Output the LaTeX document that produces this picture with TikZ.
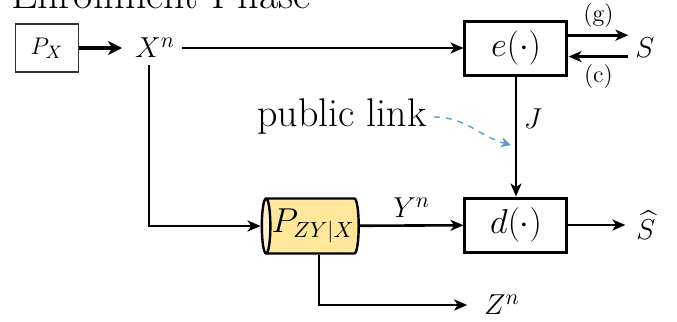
\documentclass[tikz,border=0pt]{standalone}
\usepackage{amsmath}
\usepackage{amssymb}
\usepackage{tikz}
\usetikzlibrary{arrows,arrows.meta,shapes}
\usetikzlibrary{positioning}
\definecolor{cylbody}{RGB}{255,230,153}
\definecolor{cylend}{RGB}{255,242,204}
\definecolor{linkblue}{RGB}{91,155,213}
\tikzstyle{block} = [draw, rectangle, line width=1.5pt, minimum width=51pt,
    minimum height=27pt, font=\fontsize{18}{20}\selectfont]
\tikzstyle{source} = [draw=black!80, rectangle, line width=0.8pt, minimum width=31.5pt,
    minimum height=24pt, font=\fontsize{13}{15}\selectfont]
\tikzstyle{channel} = [draw, cylinder, shape border rotate=180, aspect=0.25,
    line width=1.2pt, minimum width=27.5pt, minimum height=44.5pt, inner sep=0pt,
    cylinder uses custom fill, cylinder body fill=cylbody, cylinder end fill=cylend,
    font=\fontsize{16}{18}\selectfont]
\tikzstyle{lbl} = [font=\fontsize{15}{17}\selectfont]
\tikzstyle{tag} = [font=\fontsize{12}{14}\selectfont]
\tikzstyle{wire} = [line width=1.3pt, -{Stealth[length=6.5pt,width=5.5pt,inset=1.8pt]}]

\begin{document}
\begin{tikzpicture}[x=0.5pt, y=-0.5pt, node distance=3cm, auto]
  \useasboundingbox (0,0) rectangle (677,322);
  \node [anchor=base west, font=\fontsize{21}{24}\selectfont] (title) at (4,8) {Enrollment Phase};
  \node [source] (px) at (47,48) {$P_X$};
  \node [lbl, right of=px, node distance=54pt] (xn) {$X^n$};
  \node [block, right of=xn, node distance=180.5pt] (enc) {$e(\cdot)$};
  \node [lbl, right of=enc, node distance=64.5pt] (s) {$S$};
  \node [block, below of=enc, node distance=88.5pt] (dec) {$d(\cdot)$};
  \node [lbl, right of=dec, node distance=65pt] (shat) {$\widehat{S}$};
  \node [channel] (chan) at (313,226) {$P_{ZY|X}$};
  \node [lbl] (zn) at (502,305) {$Z^n$};
  \node [font=\fontsize{20}{24}\selectfont] (pub) at (342,117) {public link};
  \coordinate (tip) at (511,145);
  \draw [-{Stealth[length=7pt,width=7pt,inset=2pt]}, line width=2.2pt, shorten >=3pt] (px) -- (xn);
  \draw [wire] (xn) -- (enc);
  \draw [wire] ([yshift=6.4pt]enc.east) -- ([yshift=6.4pt]enc.east -| s.west) node [tag, midway, above] {(g)};
  \draw [wire] ([yshift=-4.3pt]enc.east -| s.west) -- ([yshift=-4.3pt]enc.east) node [tag, midway, below] {(c)};
  \draw [wire] (enc) -- node [lbl, pos=0.35] {$J$} (dec);
  \draw [wire] ([xshift=-3pt]xn.south) |- (chan);
  \draw [wire] (chan) -- node [lbl] {$Y^n$} (dec);
  \draw [wire, shorten >=2pt] (dec) -- (shat);
  \draw [wire, shorten >=5pt] ([xshift=3pt]chan.south) |- (zn);
  \draw [-{Stealth[length=5pt,width=5pt,inset=1.5pt]}, dashed, linkblue, line width=0.7pt] (pub.east) to [out=0, in=165] (tip);
\end{tikzpicture}
\end{document}
